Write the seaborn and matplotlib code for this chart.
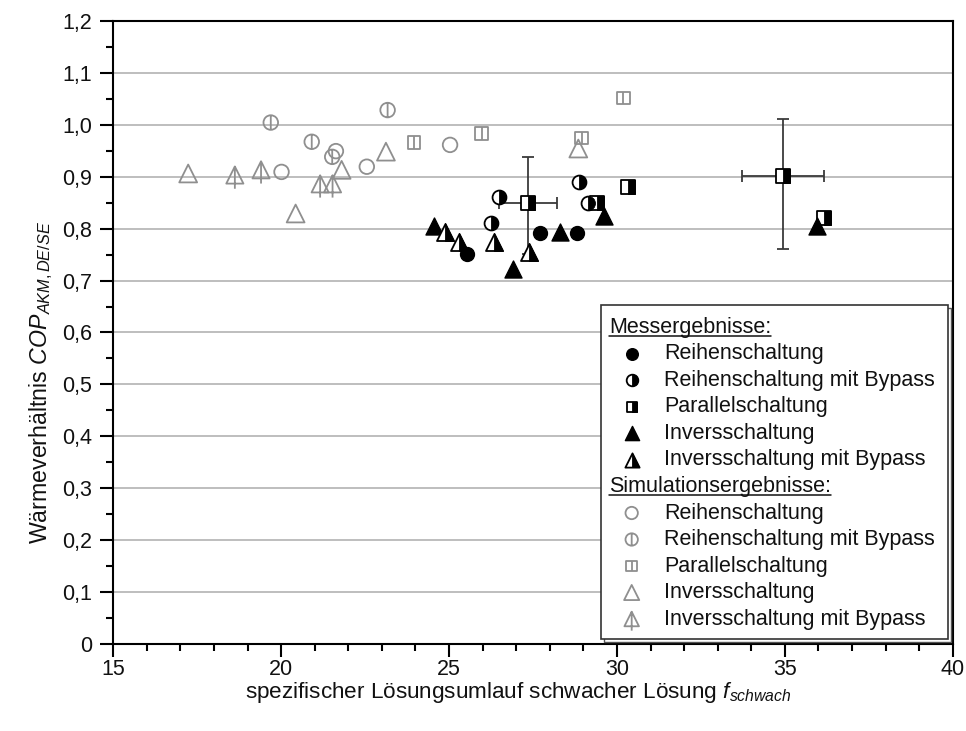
import matplotlib
matplotlib.use("Agg")
import matplotlib.pyplot as plt
import seaborn as sns
from matplotlib.markers import MarkerStyle
from matplotlib.path import Path
from matplotlib.patches import Rectangle
from matplotlib.lines import Line2D
from matplotlib.ticker import MultipleLocator, FuncFormatter

# ---------------- data ----------------
# Messergebnisse
mess_reihen_x = [25.52, 27.71, 28.80]
mess_reihen_y = [0.751, 0.791, 0.791]
mess_reihen_bp_x = [26.25, 26.49, 28.87, 29.15]
mess_reihen_bp_y = [0.810, 0.860, 0.890, 0.850]
mess_parallel_x = [27.36, 29.40, 30.34, 34.95, 36.16]
mess_parallel_y = [0.849, 0.850, 0.880, 0.901, 0.821]
mess_invers_x = [24.55, 26.91, 28.30, 29.61, 35.96]
mess_invers_y = [0.804, 0.723, 0.794, 0.824, 0.804]
mess_invers_bp_x = [24.88, 25.30, 26.34, 27.39]
mess_invers_bp_y = [0.794, 0.774, 0.774, 0.754]

# Messunsicherheit (Parallelschaltung)
err_x = [27.36, 34.95]
err_y = [0.849, 0.901]
err_x_minus = [0.87, 1.21]
err_x_plus = [0.86, 1.21]
err_y_minus = [0.097, 0.141]
err_y_plus = [0.088, 0.109]

# Simulationsergebnisse
sim_reihen_x = [20.01, 21.63, 22.55, 25.03]
sim_reihen_y = [0.909, 0.949, 0.919, 0.961]
sim_reihen_bp_x = [19.69, 20.91, 21.52, 23.17]
sim_reihen_bp_y = [1.004, 0.967, 0.938, 1.028]
sim_parallel_x = [23.96, 25.97, 28.95, 30.19]
sim_parallel_y = [0.966, 0.983, 0.974, 1.051]
sim_invers_x = [17.23, 20.43, 21.80, 23.12, 28.85]
sim_invers_y = [0.906, 0.829, 0.913, 0.948, 0.954]
sim_invers_bp_x = [18.62, 19.40, 21.16, 21.53]
sim_invers_bp_y = [0.903, 0.913, 0.886, 0.886]

labels_mess = ["Reihenschaltung", "Reihenschaltung mit Bypass", "Parallelschaltung",
               "Inversschaltung", "Inversschaltung mit Bypass"]
labels_sim = ["Reihenschaltung", "Reihenschaltung mit Bypass", "Parallelschaltung",
              "Inversschaltung", "Inversschaltung mit Bypass"]
header_mess = "Messergebnisse:"
header_sim = "Simulationsergebnisse:"

x_ticks = [15, 20, 25, 30, 35, 40]
y_ticks = [0.0, 0.1, 0.2, 0.3, 0.4, 0.5, 0.6, 0.7, 0.8, 0.9, 1.0, 1.1, 1.2]

# ---------------- style ----------------
sns.set_theme(style="ticks")
plt.rcParams["font.family"] = ["Liberation Sans", "DejaVu Sans"]
plt.rcParams["mathtext.fontset"] = "custom"
plt.rcParams["mathtext.it"] = "Liberation Sans:italic"
plt.rcParams["mathtext.rm"] = "Liberation Sans"
plt.rcParams["mathtext.bf"] = "Liberation Sans:bold"

FS = 15.5
FS_LABEL = 16.2
GRAY = "#8f8f8f"
BLACK = "#000000"

MOVE, LINE, CLOSE = Path.MOVETO, Path.LINETO, Path.CLOSEPOLY

circle_bar = Path.make_compound_path(
    Path.unit_circle(), Path([(0, -1), (0, 1)], [MOVE, LINE]))
square_bar = Path([(-1, -1), (1, -1), (1, 1), (-1, 1), (-1, -1), (0, -1), (0, 1)],
                  [MOVE, LINE, LINE, LINE, CLOSE, MOVE, LINE])
tri_bar = Path([(0, 1), (-1, -1), (1, -1), (0, 1), (0, 1), (0, -1.6)],
               [MOVE, LINE, LINE, CLOSE, MOVE, LINE])

# marker layers: (marker, size, facecolor, edgecolor, linewidth)
def half(m):
    return MarkerStyle(m, fillstyle="right")

styles_mess = [
    [("o", 100, BLACK, BLACK, 1.0)],
    [("o", 100, "white", BLACK, 1.3), (half("o"), 100, BLACK, BLACK, 0.6)],
    [("s", 88, "white", BLACK, 1.3), (half("s"), 88, BLACK, BLACK, 0.6)],
    [("^", 150, BLACK, BLACK, 1.0)],
    [("^", 150, "white", BLACK, 1.3), (half("^"), 150, BLACK, BLACK, 0.6)],
]
styles_sim = [
    [("o", 110, "none", GRAY, 1.3)],
    [(circle_bar, 110, "none", GRAY, 1.3)],
    [(square_bar, 82, "none", GRAY, 1.3)],
    [("^", 165, "none", GRAY, 1.3)],
    [(tri_bar, 390, "none", GRAY, 1.3)],
]

series_mess = [(mess_reihen_x, mess_reihen_y), (mess_reihen_bp_x, mess_reihen_bp_y),
               (mess_parallel_x, mess_parallel_y), (mess_invers_x, mess_invers_y),
               (mess_invers_bp_x, mess_invers_bp_y)]
series_sim = [(sim_reihen_x, sim_reihen_y), (sim_reihen_bp_x, sim_reihen_bp_y),
              (sim_parallel_x, sim_parallel_y), (sim_invers_x, sim_invers_y),
              (sim_invers_bp_x, sim_invers_bp_y)]

# ---------------- figure ----------------
fig = plt.figure(figsize=(9.66, 7.31), dpi=100)
ax = fig.add_axes([0.1173, 0.1186, 0.8689, 0.8531])

ax.set_xlim(15, 40)
ax.set_ylim(0, 1.2)

for yv in y_ticks[1:-1]:
    ax.axhline(yv, color="#b3b3b3", lw=1.2, zorder=0)

ax.errorbar(err_x, err_y, xerr=[err_x_minus, err_x_plus],
            yerr=[err_y_minus, err_y_plus], fmt="none", ecolor="#3a3a3a",
            elinewidth=1.3, capsize=4.5, capthick=1.3, zorder=2)

for (xs, ys), layers in zip(series_sim, styles_sim):
    for mk, s, fc, ec, lw in layers:
        sns.scatterplot(x=xs, y=ys, ax=ax, marker=mk, s=s, facecolor=fc,
                        edgecolor=ec, linewidth=lw, zorder=3)

for (xs, ys), layers in zip(series_mess, styles_mess):
    for i, (mk, s, fc, ec, lw) in enumerate(layers):
        sns.scatterplot(x=xs, y=ys, ax=ax, marker=mk, s=s, facecolor=fc,
                        edgecolor=ec, linewidth=lw, zorder=4 + i)

# axes, ticks
ax.set_xticks(x_ticks)
ax.set_yticks(y_ticks)
ax.xaxis.set_minor_locator(MultipleLocator(1))
ax.yaxis.set_minor_locator(MultipleLocator(0.05))
ax.yaxis.set_major_formatter(
    FuncFormatter(lambda v, p: "0" if abs(v) < 1e-9 else f"{v:.1f}".replace(".", ",")))
ax.tick_params(which="major", direction="out", length=9.5, width=1.5,
               labelsize=FS, color=BLACK, labelcolor="#111111")
ax.tick_params(which="minor", direction="out", length=5, width=1.5, color=BLACK)
ax.tick_params(axis="x", which="major", pad=1)
ax.tick_params(axis="y", which="major", pad=6)
for sp in ax.spines.values():
    sp.set_visible(True)
    sp.set_linewidth(1.5)
    sp.set_color(BLACK)
ax.grid(False)

ax.set_xlabel(r"spezifischer Lösungsumlauf schwacher Lösung $f_{schwach}$",
              fontsize=FS_LABEL, color="#111111")
ax.set_ylabel(r"Wärmeverhältnis $COP_{AKM,DE/SE}$", fontsize=FS_LABEL + 0.5,
              color="#111111")
ax.xaxis.set_label_coords(0.482, -0.057)
ax.yaxis.set_label_coords(-0.07, 0.42)

# ---------------- legend box ----------------
px_w, px_h = 839.4, 623.6
def ax_pos(px, py):
    return ((px - 113.3) / px_w, (644.3 - py) / px_h)

bx0, by0 = ax_pos(601, 639)
bx1, by1 = ax_pos(947.7, 305)
ax.add_patch(Rectangle((bx0 + 3 / px_w, by0 - 3 / px_h), bx1 - bx0, by1 - by0,
                       transform=ax.transAxes, facecolor="white",
                       edgecolor="#555555", lw=1.0, zorder=8, clip_on=False))
ax.add_patch(Rectangle((bx0, by0), bx1 - bx0, by1 - by0, transform=ax.transAxes,
                       facecolor="white", edgecolor="#333333", lw=1.2, zorder=9,
                       clip_on=False))

row_h = 26.5
mark_x = ax_pos(631.7, 0)[0]
text_x = ax_pos(664, 0)[0]
head_x = ax_pos(609, 0)[0]
headers = []

def legend_block(py_head, header, labels, styles, scale):
    t = ax.text(head_x, ax_pos(0, py_head)[1], header, transform=ax.transAxes,
                fontsize=FS, va="center", ha="left", color="#111111", zorder=11)
    headers.append(t)
    for k, (lab, layers) in enumerate(zip(labels, styles)):
        py = py_head + row_h * (k + 1)
        yy = ax_pos(0, py)[1]
        for i, (mk, s, fc, ec, lw) in enumerate(layers):
            ax.scatter([mark_x], [yy], transform=ax.transAxes, marker=mk,
                       s=s * scale, facecolor=fc, edgecolor=ec, linewidth=lw,
                       zorder=11 + i, clip_on=False)
        ax.text(text_x, yy, lab, transform=ax.transAxes, fontsize=FS,
                va="center", ha="left", color="#111111", zorder=11)

legend_block(327.5, header_mess, labels_mess, styles_mess, 0.7)
legend_block(327.5 + 6 * row_h, header_sim, labels_sim, styles_sim, 0.72)

# underline the section headers
fig.canvas.draw()
renderer = fig.canvas.get_renderer()
inv = ax.transAxes.inverted()
for t in headers:
    bb = t.get_window_extent(renderer)
    (x0, y0), (x1, _) = inv.transform([(bb.x0, bb.y0 + 1.5), (bb.x1, bb.y0)])
    ax.add_line(Line2D([x0, x1], [y0, y0], transform=ax.transAxes, color="#111111",
                       lw=1.1, zorder=11, clip_on=False))

fig.savefig("out.png", dpi=100)
